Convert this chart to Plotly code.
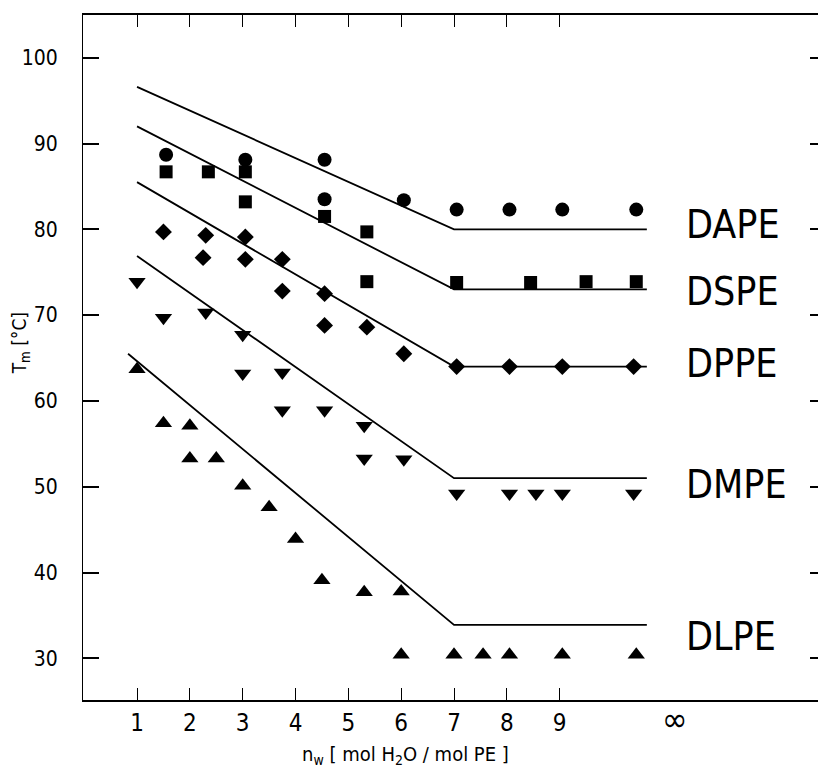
import plotly.graph_objects as go

# ---- data ----
n_dape = [1.55, 3.05, 4.55, 4.55, 6.05, 7.05, 8.05, 9.05, 10.45]
t_dape = [88.7, 88.1, 88.1, 83.5, 83.4, 82.3, 82.3, 82.3, 82.3]

n_dspe = [1.55, 2.35, 3.05, 3.05, 4.55, 5.35, 5.35, 7.05, 8.45, 9.5, 10.45]
t_dspe = [86.7, 86.7, 86.7, 83.2, 81.5, 79.7, 73.9, 73.8, 73.8, 73.9, 73.9]

n_dppe = [1.5, 2.3, 2.25, 3.05, 3.05, 3.75, 3.75, 4.55, 4.55, 5.35, 6.05, 7.05, 8.05, 9.05, 10.4]
t_dppe = [79.7, 79.3, 76.7, 79.1, 76.5, 76.5, 72.8, 72.5, 68.8, 68.6, 65.5, 64.0, 64.0, 64.0, 64.0]

n_dmpe = [1.0, 1.5, 2.3, 3.0, 3.0, 3.75, 3.75, 4.55, 5.3, 5.3, 6.05, 7.05, 8.05, 8.55, 9.05, 10.4]
t_dmpe = [73.9, 69.7, 70.3, 67.7, 63.2, 63.3, 58.9, 58.9, 57.1, 53.3, 53.2, 49.2, 49.2, 49.2, 49.2, 49.2]

n_dlpe = [1.0, 1.5, 2.0, 2.0, 2.5, 3.0, 3.5, 4.0, 4.5, 5.3, 6.0, 6.0, 7.0, 7.55, 8.05, 9.05, 10.45]
t_dlpe = [63.7, 57.4, 57.1, 53.3, 53.3, 50.1, 47.6, 43.9, 39.1, 37.7, 37.8, 30.4, 30.4, 30.4, 30.4, 30.4, 30.4]

# fitted lines (start, break at n=7, end)
line_n = [1.0, 7.0, 10.65]
line_n_dlpe = [0.83, 7.0, 10.65]
line_dape = [96.6, 80.0, 80.0]
line_dspe = [92.0, 73.0, 73.0]
line_dppe = [85.5, 64.0, 64.0]
line_dmpe = [76.9, 51.0, 51.0]
line_dlpe = [65.5, 33.9, 33.9]

series_names = ["DAPE", "DSPE", "DPPE", "DMPE", "DLPE"]
label_t = [80.6, 72.7, 64.4, 50.3, 32.5]
x_ticks = [1, 2, 3, 4, 5, 6, 7, 8, 9]
x_ticktext = ["1", "2", "3", "4", "5", "6", "7", "8", "9"]
inf_pos = 11.18
y_ticks = [30, 40, 50, 60, 70, 80, 90, 100]

FONT = "Liberation Sans Narrow, DejaVu Sans Condensed, Roboto Condensed, Arial Narrow, DejaVu Sans, sans-serif"

fig = go.Figure()

lines = [
    (line_n, line_dape), (line_n, line_dspe), (line_n, line_dppe),
    (line_n, line_dmpe), (line_n_dlpe, line_dlpe),
]
for (lx, ly) in lines:
    fig.add_trace(go.Scatter(x=lx, y=ly, mode="lines",
                             line=dict(color="black", width=1.8),
                             showlegend=False, hoverinfo="skip"))

pts = [
    (n_dape, t_dape, "circle", 14),
    (n_dspe, t_dspe, "square", 13),
    (n_dppe, t_dppe, "diamond", 13),
    (n_dmpe, t_dmpe, "triangle-down", 15),
    (n_dlpe, t_dlpe, "triangle-up", 15),
]
for (px, py, sym, sz), nm in zip(pts, series_names):
    fig.add_trace(go.Scatter(x=px, y=py, mode="markers", name=nm,
                             marker=dict(symbol=sym, size=sz, color="black",
                                         line=dict(width=0)),
                             showlegend=False))

# invisible trace on the right axis (for right-hand ticks)
fig.add_trace(go.Scatter(x=[None], y=[None], yaxis="y2", showlegend=False))

for nm, lt in zip(series_names, label_t):
    fig.add_annotation(x=11.35, y=lt, xref="x", yref="y", text=nm,
                       showarrow=False, xanchor="left", yanchor="middle",
                       font=dict(family=FONT, size=39, color="black"))

fig.add_annotation(x=inf_pos, y=-0.028, xref="x", yref="paper", text="∞",
                   showarrow=False, xanchor="center", yanchor="middle",
                   font=dict(family=FONT, size=34, color="black"))

fig.add_annotation(x=0.439, y=-0.080, xref="paper", yref="paper",
                   text="n<sub>w</sub> [ mol H<sub>2</sub>O / mol PE ]",
                   showarrow=False, xanchor="center", yanchor="middle",
                   font=dict(family=FONT, size=20, color="black"))

fig.add_annotation(x=-0.085, y=0.52, xref="paper", yref="paper",
                   text="T<sub>m</sub> [°C]", textangle=-90,
                   showarrow=False, xanchor="center", yanchor="middle",
                   font=dict(family=FONT, size=19, color="black"))

fig.update_layout(
    width=818, height=776,
    margin=dict(l=83, r=0, t=15, b=76),
    plot_bgcolor="white", paper_bgcolor="white",
    font=dict(family=FONT, color="black"),
    xaxis=dict(range=[-0.023, 13.89], tickvals=x_ticks, ticktext=x_ticktext,
               ticks="inside", ticklen=12, tickwidth=1, tickcolor="black",
               showline=True, linecolor="black", linewidth=2, mirror="ticks",
               showgrid=False, zeroline=False,
               tickfont=dict(family=FONT, size=24, color="black"),
               ticklabelstandoff=0),
    yaxis=dict(range=[25.14, 104.98], tickvals=y_ticks,
               ticks="inside", ticklen=16, tickwidth=1.5, tickcolor="black",
               showline=True, linecolor="black", linewidth=1,
               showgrid=False, zeroline=False,
               tickfont=dict(family=FONT, size=21, color="black"),
               ticklabelstandoff=20),
    yaxis2=dict(range=[25.14, 104.98], tickvals=y_ticks, overlaying="y",
                side="right", ticks="inside", ticklen=8, tickwidth=1.5,
                tickcolor="black", showline=False, showticklabels=False,
                showgrid=False, zeroline=False),
)

fig.write_html("out.html")
